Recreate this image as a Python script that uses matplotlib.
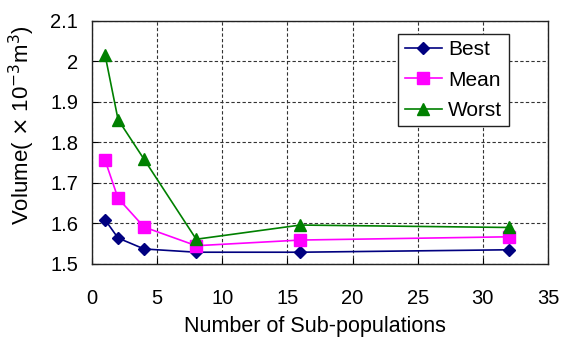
import matplotlib
matplotlib.use("Agg")
import matplotlib.pyplot as plt

plt.rcParams['font.family'] = ['Liberation Sans', 'DejaVu Sans']

subpops = [1, 2, 4, 8, 16, 32]
best = [1.609, 1.564, 1.537, 1.529, 1.529, 1.535]
mean = [1.756, 1.662, 1.591, 1.545, 1.559, 1.567]
worst = [2.016, 1.856, 1.758, 1.561, 1.596, 1.590]
xticks = [0, 5, 10, 15, 20, 25, 30, 35]
yticks = [1.5, 1.6, 1.7, 1.8, 1.9, 2.0, 2.1]
ytick_labels = ['1.5', '1.6', '1.7', '1.8', '1.9', '2', '2.1']

fig = plt.figure(figsize=(5.62, 3.38), dpi=100)
ax = fig.add_axes([0.1637, 0.219, 0.8113, 0.72])

ax.plot(subpops, best, color='#000080', marker='D', markersize=6.5, lw=1.2, label='Best')
ax.plot(subpops, mean, color='#FF00FF', marker='s', markersize=8.5, lw=1.2, label='Mean')
ax.plot(subpops, worst, color='#008000', marker='^', markersize=9, lw=1.2, label='Worst')

ax.set_xlim(0, 35)
ax.set_ylim(1.5, 2.1)
ax.set_xticks(xticks)
ax.set_yticks(yticks)
ax.set_yticklabels(ytick_labels)
ax.tick_params(axis='both', direction='in', length=4, labelsize=14.5)
ax.tick_params(axis='x', pad=18)
ax.tick_params(axis='y', pad=10)
ax.grid(True, color='#333333', linestyle=(0, (3, 2)), lw=0.8)
for s in ax.spines.values():
    s.set_color('#222222')
    s.set_linewidth(1.0)

ax.set_xlabel('Number of Sub-populations', fontsize=15.5)
ax.xaxis.set_label_coords(0.488, -0.215)
ax.set_ylabel('Volume( $\\times$ 10$^{-3}$m$^{3}$)', fontsize=16)
ax.yaxis.set_label_coords(-0.12, 0.57)

leg = ax.legend(loc='upper right', bbox_to_anchor=(0.914, 0.945), borderaxespad=0,
                fontsize=15, fancybox=False, framealpha=1, edgecolor='#222222',
                handlelength=1.8, handletextpad=0.3, labelspacing=0.55, borderpad=0.3)
leg.get_frame().set_linewidth(1.0)

fig.savefig('out.png', dpi=100)
